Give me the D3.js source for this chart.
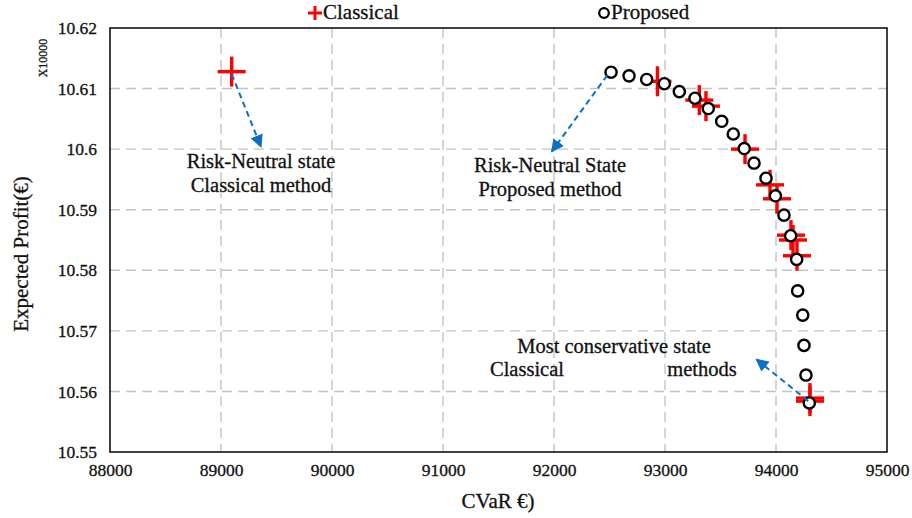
<!DOCTYPE html>
<html>
<head>
<meta charset="utf-8">
<script src="https://cdn.jsdelivr.net/npm/d3@7"></script>
<style>
  html, body { margin: 0; padding: 0; background: #fff; }
  svg { display: block; }
  text { font-family: "Liberation Serif", "Times New Roman", serif; fill: #111; stroke: #111; stroke-width: 0.3; }
</style>
</head>
<body>
<svg id="chart" width="912" height="518"></svg>
<script>
// Efficient frontier: CVaR (€) vs expected profit (×10000 €)
const xTicks = [88000, 89000, 90000, 91000, 92000, 93000, 94000, 95000];
const yTicks = [10.55, 10.56, 10.57, 10.58, 10.59, 10.6, 10.61, 10.62];
const yTickLabels = ["10.55", "10.56", "10.57", "10.58", "10.59", "10.6", "10.61", "10.62"];

// Proposed method (circles)
const proposedCVaR = [92514, 92676, 92835, 92994, 93129, 93270, 93390, 93511, 93615, 93714,
                      93802, 93910, 93995, 94072, 94132, 94186, 94195, 94241, 94252, 94270, 94300];
const proposedProfit = [10.6127, 10.6121, 10.6115, 10.6108, 10.6095, 10.6084, 10.6067, 10.6046, 10.6025, 10.6001,
                        10.5977, 10.5952, 10.5923, 10.5891, 10.5857, 10.5818, 10.5766, 10.5726, 10.5676, 10.5627, 10.5581];

// Classical method (crosses)
const classicalCVaR = [89096, 92932, 93309, 93369, 93721, 93946, 94009, 94135, 94153, 94189, 94306, 94306];
const classicalProfit = [10.6128, 10.6112, 10.6081, 10.6071, 10.6000, 10.5941, 10.5918, 10.5858, 10.5850, 10.5824, 10.5589, 10.5584];

// Callout notes: arrow from [x0, y0] to [x1, y1]
const arrowFrom = [[89096, 10.6124], [92480, 10.6122], [94290, 10.5584]];
const arrowTo = [[89360, 10.6004], [91980, 10.5996], [93824, 10.5653]];

const noteLines = ["Risk-Neutral state", "Classical method", "Risk-Neutral State", "Proposed method",
                   "Most conservative state", "Classical", "methods"];
const noteAnchor = [[261, 168], [261, 192], [550, 172], [550, 196], [614, 353], [527, 376], [702, 376]];

const legendLabels = ["Classical", "Proposed"];

const margin = { left: 110, right: 25, top: 28, bottom: 66 };
const W = 912, H = 518;
const svg = d3.select("#chart");

const x = d3.scaleLinear().domain([88000, 95000]).range([margin.left, W - margin.right]);
const y = d3.scaleLinear().domain([10.55, 10.62]).range([H - margin.bottom, margin.top]);

const x0 = x.range()[0], x1 = x.range()[1], yb = y.range()[0], yt = y.range()[1];

// grid
const grid = svg.append("g").attr("stroke", "#c4c4c4").attr("stroke-width", 1.4).attr("stroke-dasharray", "10,6");
grid.selectAll("line.gx").data(xTicks.slice(1, -1)).join("line")
  .attr("x1", d => x(d)).attr("x2", d => x(d)).attr("y1", yt).attr("y2", yb);
grid.selectAll("line.gy").data(yTicks.slice(1, -1)).join("line")
  .attr("y1", d => y(d)).attr("y2", d => y(d)).attr("x1", x0).attr("x2", x1);

// axes
const xAxis = svg.append("g").attr("transform", `translate(0,${yb})`)
  .call(d3.axisBottom(x).tickValues(xTicks).tickSize(0).tickPadding(12).tickFormat(d3.format("d")));
xAxis.select(".domain").remove();
xAxis.selectAll("text").attr("font-size", 17.5).attr("font-family", "Liberation Serif").attr("fill", "#111");

const yAxis = svg.append("g").attr("transform", `translate(${x0},0)`)
  .call(d3.axisLeft(y).tickValues(yTicks).tickSize(0).tickPadding(13).tickFormat((d, i) => yTickLabels[i]));
yAxis.select(".domain").remove();
yAxis.selectAll("text").attr("font-size", 17.5).attr("font-family", "Liberation Serif").attr("fill", "#111");

// frame
svg.append("rect").attr("x", x0).attr("y", yt).attr("width", x1 - x0).attr("height", yb - yt)
  .attr("fill", "none").attr("stroke", "#111").attr("stroke-width", 1.6);

// classical crosses
const crossHalf = 14;
const cl = svg.append("g").attr("stroke", "#ff0000").attr("stroke-width", 3.4);
classicalCVaR.forEach((cv, i) => {
  const cx = x(cv), cy = y(classicalProfit[i]);
  cl.append("line").attr("x1", cx - crossHalf).attr("x2", cx + crossHalf).attr("y1", cy).attr("y2", cy);
  cl.append("line").attr("x1", cx).attr("x2", cx).attr("y1", cy - crossHalf - 1).attr("y2", cy + crossHalf + 1);
});

// proposed circles
svg.append("g").selectAll("circle").data(proposedCVaR).join("circle")
  .attr("cx", d => x(d)).attr("cy", (d, i) => y(proposedProfit[i])).attr("r", 5.6)
  .attr("fill", "#fff").attr("stroke", "#000").attr("stroke-width", 2.4);

// callout arrows
const blue = "#0a70c4";
svg.append("defs").append("marker").attr("id", "ah").attr("viewBox", "0 0 10 10")
  .attr("refX", 9).attr("refY", 5).attr("markerWidth", 13).attr("markerHeight", 13)
  .attr("markerUnits", "userSpaceOnUse").attr("orient", "auto")
  .append("path").attr("d", "M0,0 L10,5 L0,10 Z").attr("fill", blue);
svg.append("g").selectAll("line").data(arrowFrom).join("line")
  .attr("x1", d => x(d[0])).attr("y1", d => y(d[1]))
  .attr("x2", (d, i) => x(arrowTo[i][0])).attr("y2", (d, i) => y(arrowTo[i][1]))
  .attr("stroke", blue).attr("stroke-width", 2).attr("stroke-dasharray", "6,4")
  .attr("marker-end", "url(#ah)");

// notes
svg.append("g").selectAll("text").data(noteLines).join("text")
  .attr("x", (d, i) => noteAnchor[i][0]).attr("y", (d, i) => noteAnchor[i][1])
  .attr("text-anchor", "middle").attr("font-size", 20.5).text(d => d);

// axis titles
svg.append("text").attr("x", 498).attr("y", 508).attr("text-anchor", "middle")
  .attr("font-size", 21).text("CVaR €)");
svg.append("text").attr("transform", "translate(28,254) rotate(-90)").attr("text-anchor", "middle")
  .attr("font-size", 21).text("Expected Profit(€)");
svg.append("text").attr("transform", "translate(47,58) rotate(-90)").attr("text-anchor", "middle")
  .attr("font-size", 12).attr("stroke-width", 0.1).text("X10000");

// legend
const lg = svg.append("g");
lg.append("line").attr("x1", 308).attr("x2", 322).attr("y1", 13).attr("y2", 13).attr("stroke", "#ff0000").attr("stroke-width", 3);
lg.append("line").attr("x1", 315).attr("x2", 315).attr("y1", 6).attr("y2", 20).attr("stroke", "#ff0000").attr("stroke-width", 3);
lg.append("text").attr("x", 323).attr("y", 19).attr("font-size", 21).text(legendLabels[0]);
lg.append("circle").attr("cx", 604).attr("cy", 13).attr("r", 4.8).attr("fill", "#fff").attr("stroke", "#000").attr("stroke-width", 2.2);
lg.append("text").attr("x", 611).attr("y", 19).attr("font-size", 21).text(legendLabels[1]);
</script>
</body>
</html>
